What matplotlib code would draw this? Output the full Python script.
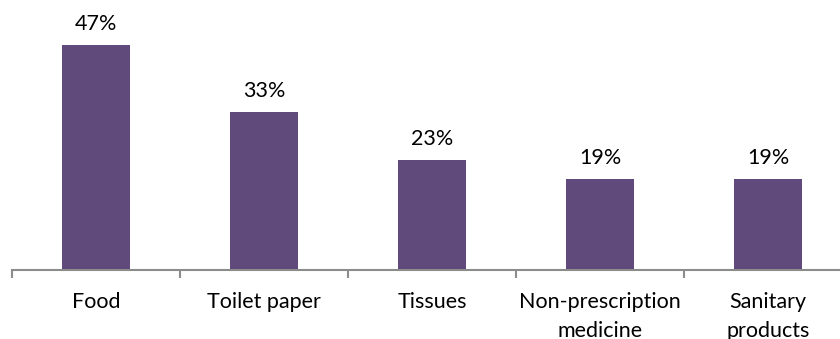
import numpy as np
import matplotlib
matplotlib.use("Agg")
import matplotlib.pyplot as plt

# items bought, share of respondents (%)
categories = ["Food", "Toilet paper", "Tissues", "Non-prescription\nmedicine", "Sanitary\nproducts"]
shares = [47, 33, 23, 19, 19]

bar_color = "#5f4a7b"
axis_color = "#8c8c8c"

plt.rcParams['font.family'] = ['Lato', 'DejaVu Sans']

fig = plt.figure(figsize=(8.4, 3.39), dpi=100)
ax = fig.add_axes([12 / 840, 1 - 270 / 339, 1.0, 239.5 / 339])

x = np.arange(len(categories))
bars = ax.bar(x, shares, width=0.405, color=bar_color, zorder=2)

for xi, v in zip(x, shares):
    ax.text(xi, v + 2.2, "%d%%" % v, ha="center", va="bottom", fontsize=15.5, color="#000000")

ax.set_xlim(-0.5, len(categories) - 0.5)
ax.set_ylim(0, 50)

# category labels under the axis
for xi, lab in zip(x, categories):
    ax.text(xi, -4.5, lab, ha="center", va="top", fontsize=15.5, color="#000000",
            linespacing=1.6)

# tick marks sit on category boundaries
ax.set_xticks(np.arange(len(categories)) - 0.5)
ax.set_xticklabels([])
ax.tick_params(axis="x", length=6, width=1.5, color=axis_color, direction="out")
ax.set_yticks([])

for s in ["top", "right", "left"]:
    ax.spines[s].set_visible(False)
ax.spines["bottom"].set_color(axis_color)
ax.spines["bottom"].set_linewidth(1.5)

fig.savefig("out.png", dpi=100)
